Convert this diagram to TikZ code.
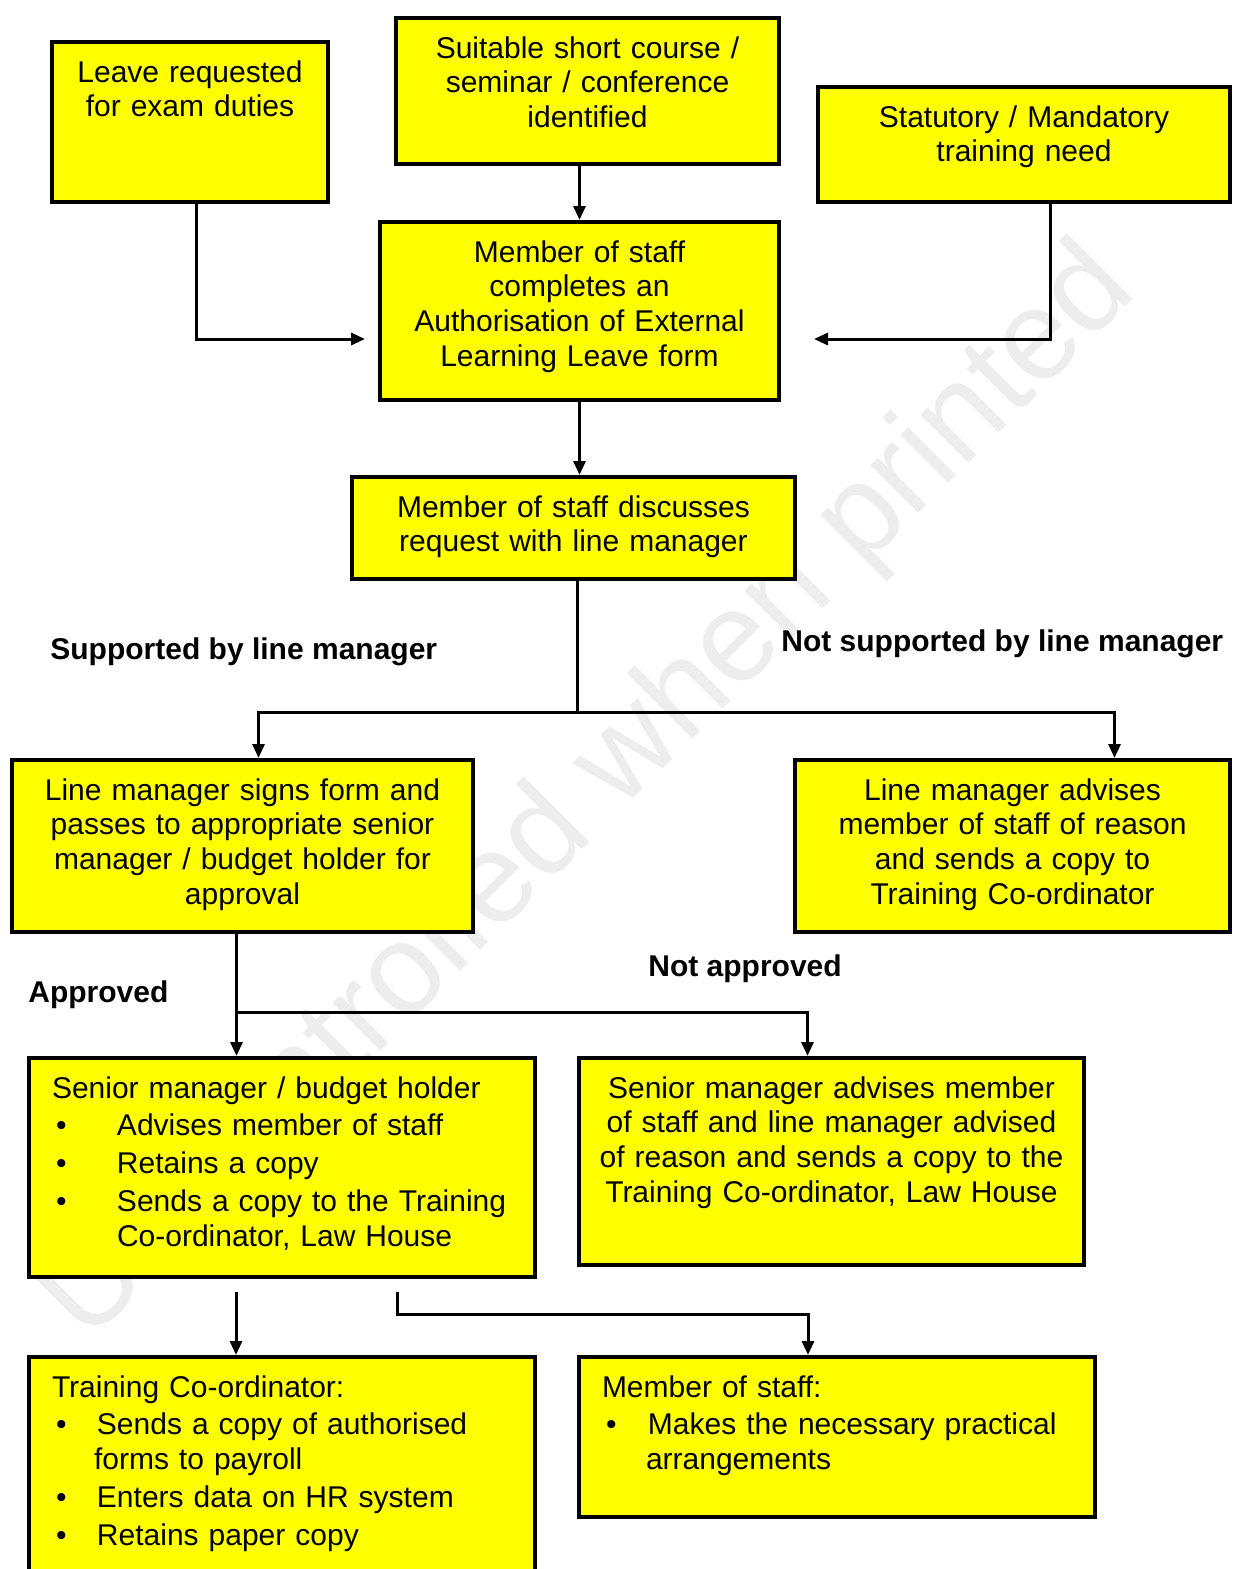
\documentclass[tikz,border=0pt]{standalone}
\usepackage{fontspec}
\setmainfont{Liberation Sans}
\usetikzlibrary{arrows.meta,calc}
\definecolor{BoxY}{HTML}{FFFF00}
\definecolor{WMark}{HTML}{EDEDED}
\newcommand{\blt}[1]{\makebox[#1][l]{\hspace{2pt}\textbullet}}

\begin{document}
\begin{tikzpicture}[x=0.5pt,y=-0.5pt,
    font=\fontsize{15pt}{17.4pt}\selectfont,
    box/.style={draw=black,fill=BoxY,line width=2pt,anchor=north west,
      inner xsep=3pt,inner ysep=9pt,text height=11pt,align=center},
    boxl/.style={box,inner xsep=11.5pt,align=left},
    lbl/.style={font=\fontsize{15pt}{17.4pt}\selectfont\bfseries,anchor=west,inner sep=0pt},
    ln/.style={line width=1.5pt},
    arr/.style={ln,-{Triangle[length=7pt,width=6pt]}}]
  \useasboundingbox (0,0) rectangle (1232,1569);
  \clip (0,0) rectangle (1232,1569);
  \fill[white] (0,0) rectangle (1232,1569);

  % watermark
  \node[rotate=45,text=WMark,font=\fontsize{64pt}{64pt}\selectfont] (wmark) at (590,795) {Uncontrolled when printed};

  % top row
  \node[box,text width=132pt,text depth=51pt] (leave) at (50,40) {Leave requested\\for exam duties};
  \node[box,text width=185.5pt,text depth=44pt] (course) at (394,16) {Suitable short course /\\seminar / conference\\identified};
  \node[box,text width=200pt,text depth=28.5pt] (stat) at (816,85) {Statutory / Mandatory\\training need};

  % form and discussion
  \node[box,text width=193.5pt,text depth=60pt] (form) at (378,220) {Member of staff\\completes an\\Authorisation of External\\Learning Leave form};
  \node[box,text width=215.5pt,text depth=22pt] (discuss) at (350,475) {Member of staff discusses\\request with line manager};

  % line manager outcome
  \node[box,text width=224.5pt,text depth=57pt] (signs) at (10,758) {Line manager signs form and\\passes to appropriate senior\\manager / budget holder for\\approval};
  \node[box,text width=211.5pt,text depth=57pt] (advises) at (793,758) {Line manager advises\\member of staff of reason\\and sends a copy to\\Training Co-ordinator};

  % senior manager outcome
  \node[boxl,text width=230pt,text depth=80.5pt] (senior) at (27,1056) {Senior manager / budget holder\\[1.5pt]
    \blt{32.5pt}Advises member of staff\\[1.5pt]
    \blt{32.5pt}Retains a copy\\[1.5pt]
    \blt{32.5pt}Sends a copy to the Training\\
    \hspace*{32.5pt}Co-ordinator, Law House};
  \node[box,text width=246.5pt,text depth=74.5pt] (notappr) at (577,1056) {Senior manager advises member\\of staff and line manager advised\\of reason and sends a copy to the\\Training Co-ordinator, Law House};

  % final actions
  \node[boxl,text width=230pt,text depth=83.5pt] (coord) at (27,1355) {Training Co-ordinator:\\[1.5pt]
    \blt{22.5pt}Sends a copy of authorised\\
    \hspace*{21pt}forms to payroll\\[1.5pt]
    \blt{22.5pt}Enters data on HR system\\[1.5pt]
    \blt{22.5pt}Retains paper copy};
  \node[boxl,text width=235pt,text depth=51pt] (staff) at (577,1355) {Member of staff:\\[1.5pt]
    \blt{23pt}Makes the necessary practical\\
    \hspace*{22pt}arrangements};

  % labels
  \node[lbl] (lsup) at (50,652) {Supported by line manager};
  \node[lbl] (lnsup) at (781,644) {Not supported by line manager};
  \node[lbl] (lnapp) at (648,969) {Not approved};
  \node[lbl] (lapp) at (28,995) {Approved};

  % connectors
  \coordinate (split1) at (577,712);
  \coordinate (split2) at ([xshift=-3pt]signs.south |- 0,1012);
  \draw[arr] (course.south -| form.north) -- (form.north);
  \draw[arr] ([xshift=3pt]leave.south) |- ([xshift=-6.5pt,yshift=-14pt]form.west);
  \draw[arr] ([xshift=13pt]stat.south) |- ([xshift=16.5pt,yshift=-14pt]form.east);
  \draw[arr] (form.south) -- (form.south |- discuss.north);
  \draw[ln] (discuss.south -| split1) -- (split1);
  \draw[arr] (split1) -| ([xshift=8pt]signs.north);
  \draw[arr] (split1) -| ([xshift=51pt]advises.north);
  \draw[arr] (split2 |- signs.south) -- (split2 |- senior.north);
  \draw[arr] (split2) -| ([xshift=-12pt]notappr.north);
  \draw[arr] ([xshift=-23pt,yshift=-6.5pt]senior.south) -- ([xshift=-23pt]coord.north);
  \draw[arr] ([xshift=57.5pt,yshift=-6.5pt]senior.south) -- ++(0,22) -| ([xshift=-14.5pt]staff.north);
\end{tikzpicture}
\end{document}
